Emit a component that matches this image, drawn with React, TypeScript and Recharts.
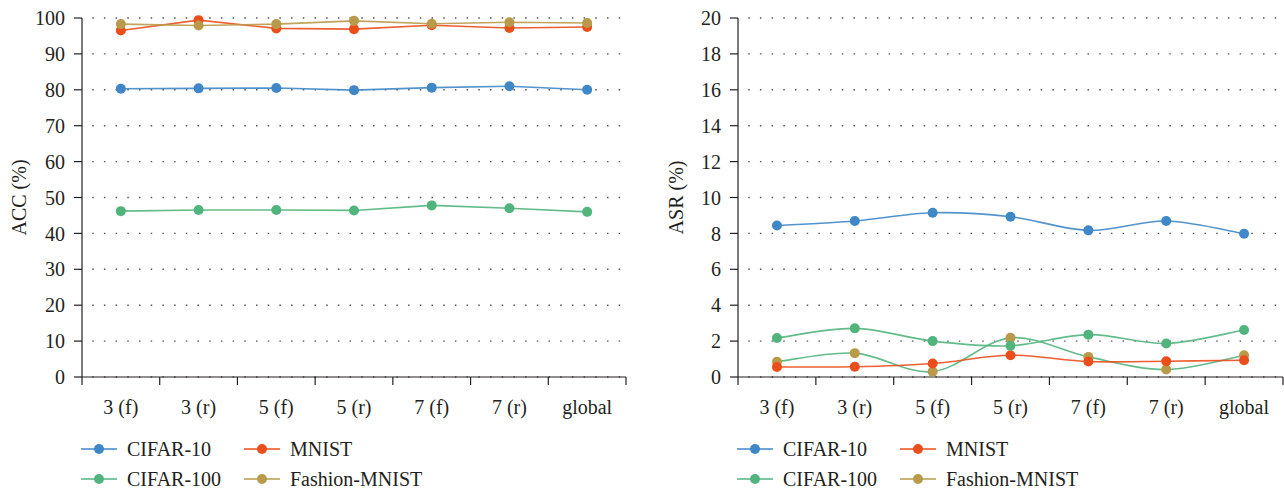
import React from "react";
import { LineChart, Line, XAxis, YAxis, CartesianGrid } from "recharts";

const CATEGORIES = ["3 (f)", "3 (r)", "5 (f)", "5 (r)", "7 (f)", "7 (r)", "global"];

const ACC_CIFAR10 = [80.3, 80.4, 80.5, 79.9, 80.6, 81.0, 80.0];
const ACC_MNIST = [96.5, 99.4, 97.1, 96.9, 98.0, 97.2, 97.5];
const ACC_CIFAR100 = [46.2, 46.5, 46.5, 46.4, 47.8, 47.0, 46.0];
const ACC_FASHION = [98.3, 97.9, 98.3, 99.2, 98.4, 98.8, 98.6];

const ASR_CIFAR10 = [8.44, 8.69, 9.15, 8.93, 8.17, 8.69, 7.98];
const ASR_MNIST = [0.56, 0.57, 0.75, 1.21, 0.86, 0.88, 0.93];
const ASR_CIFAR100 = [2.17, 2.71, 2.0, 1.74, 2.36, 1.87, 2.62];
const ASR_FASHION = [0.85, 1.33, 0.3, 2.18, 1.12, 0.42, 1.21];

const ACC_TICKS = [0, 10, 20, 30, 40, 50, 60, 70, 80, 90, 100];
const ASR_TICKS = [0, 2, 4, 6, 8, 10, 12, 14, 16, 18, 20];

const FONT = '"Liberation Serif", "DejaVu Serif", serif';
const FONT_SIZE = 20;
const INK = "#231f20";
const BLUE = "#3f87c7";
const RED = "#e94e1b";
const GREEN = "#52b47d";
const GOLD = "#b99a4a";

const SERIES = [
  { key: "cifar10", name: "CIFAR-10", color: BLUE },
  { key: "mnist", name: "MNIST", color: RED },
  { key: "cifar100", name: "CIFAR-100", color: GREEN },
  { key: "fashion", name: "Fashion-MNIST", color: GOLD },
];

const PANEL_W = 642;
const PANEL_H = 490;
const TOP = 18;
const BOTTOM = 73;
const XAXIS_H = 40;

// smooth line like the spreadsheet "smoothed line" option (Catmull-Rom as beziers)
const smoothCurve = (context: any) => {
  let pts: [number, number][] = [];
  return {
    areaStart() {},
    areaEnd() {},
    lineStart() {
      pts = [];
    },
    point(x: number, y: number) {
      pts.push([+x, +y]);
    },
    lineEnd() {
      if (!pts.length) return;
      context.moveTo(pts[0][0], pts[0][1]);
      const t = 1 / 6;
      for (let i = 0; i < pts.length - 1; i++) {
        const p0 = pts[i - 1] || pts[i];
        const p1 = pts[i];
        const p2 = pts[i + 1];
        const p3 = pts[i + 2] || p2;
        context.bezierCurveTo(
          p1[0] + (p2[0] - p0[0]) * t,
          p1[1] + (p2[1] - p0[1]) * t,
          p2[0] - (p3[0] - p1[0]) * t,
          p2[1] - (p3[1] - p1[1]) * t,
          p2[0],
          p2[1]
        );
      }
    },
  };
};

function buildRows(values: Record<string, number[]>) {
  return CATEGORIES.map((cat, i) => {
    const row: Record<string, string | number> = { cat };
    Object.keys(values).forEach((k) => {
      row[k] = values[k][i];
    });
    return row;
  });
}

const accData = buildRows({
  cifar10: ACC_CIFAR10,
  mnist: ACC_MNIST,
  cifar100: ACC_CIFAR100,
  fashion: ACC_FASHION,
});

const asrData = buildRows({
  cifar10: ASR_CIFAR10,
  mnist: ASR_MNIST,
  cifar100: ASR_CIFAR100,
  fashion: ASR_FASHION,
});

function CategoryTick(props: any) {
  const { x, y, payload, index, bw, count } = props;
  return (
    <g>
      <line x1={x - bw / 2} y1={y} x2={x - bw / 2} y2={y + 8} stroke={INK} strokeWidth={1.2} />
      {index === count - 1 && (
        <line x1={x + bw / 2} y1={y} x2={x + bw / 2} y2={y + 8} stroke={INK} strokeWidth={1.2} />
      )}
      <text
        x={x}
        y={y + 30}
        textAnchor="middle"
        dominantBaseline="central"
        fontFamily={FONT}
        fontSize={FONT_SIZE}
        fill={INK}
      >
        {payload.value}
      </text>
    </g>
  );
}

function LegendBlock({ axisX }: { axisX: number }) {
  const cols = [axisX - 1, axisX + 162];
  const rows = [449, 479];
  return (
    <>
      {SERIES.map((s, i) => (
        <div
          key={s.key}
          style={{
            position: "absolute",
            left: cols[i % 2],
            top: rows[Math.floor(i / 2)] - 12,
            height: 24,
            display: "flex",
            alignItems: "center",
            fontFamily: FONT,
            fontSize: FONT_SIZE,
            color: INK,
            whiteSpace: "nowrap",
          }}
        >
          <svg width={36} height={12} style={{ marginRight: 10 }}>
            <line x1={0} y1={6} x2={36} y2={6} stroke={s.color} strokeOpacity={0.75} strokeWidth={2} />
            <circle cx={18} cy={6} r={5} fill={s.color} />
          </svg>
          {s.name}
        </div>
      ))}
    </>
  );
}

interface PanelProps {
  left: number;
  data: Record<string, string | number>[];
  yLabel: string;
  yTicks: number[];
  yAxisW: number;
  rightMargin: number;
  labelX: number;
  smooth: boolean;
  order: string[];
  lineColor?: Record<string, string>;
}

function Panel({ left, data, yLabel, yTicks, yAxisW, rightMargin, labelX, smooth, order, lineColor }: PanelProps) {
  const plotW = PANEL_W - yAxisW - rightMargin;
  const bw = plotW / CATEGORIES.length;
  const yMax = yTicks[yTicks.length - 1];

  return (
    <div style={{ position: "absolute", left, top: 0, width: PANEL_W, height: PANEL_H }}>
      <LineChart
        width={PANEL_W}
        height={PANEL_H}
        data={data}
        margin={{ top: TOP, right: rightMargin, bottom: BOTTOM, left: 0 }}
      >
        <CartesianGrid
          vertical={false}
          stroke="#555"
          strokeWidth={1.4}
          strokeDasharray="0 10.2 1.5 0"
        />
        <XAxis
          dataKey="cat"
          height={XAXIS_H}
          interval={0}
          padding={{ left: bw / 2, right: bw / 2 }}
          axisLine={{ stroke: INK, strokeWidth: 1.2 }}
          tickLine={false}
          tickSize={0}
          tickMargin={0}
          tick={(p: any) => <CategoryTick {...p} bw={bw} count={CATEGORIES.length} />}
        />
        <YAxis
          width={yAxisW}
          domain={[0, yMax]}
          ticks={yTicks}
          interval={0}
          tickSize={8}
          tickMargin={9}
          axisLine={{ stroke: INK, strokeWidth: 1.2 }}
          tickLine={{ stroke: INK, strokeWidth: 1.2 }}
          tick={{ fontFamily: FONT, fontSize: FONT_SIZE, fill: INK }}
          label={{
            value: yLabel,
            content: (p: any) => {
              const vb = p.viewBox || { y: TOP, height: PANEL_H - TOP - BOTTOM - XAXIS_H };
              const cy = vb.y + vb.height / 2;
              return (
                <text
                  x={labelX}
                  y={cy}
                  transform={`rotate(-90 ${labelX} ${cy})`}
                  textAnchor="middle"
                  dominantBaseline="central"
                  fontFamily={FONT}
                  fontSize={FONT_SIZE}
                  fill={INK}
                >
                  {yLabel}
                </text>
              );
            },
          }}
        />
        {order.map((key) => {
          const s = SERIES.find((d) => d.key === key)!;
          const stroke = (lineColor && lineColor[key]) || s.color;
          return (
            <Line
              key={key}
              dataKey={key}
              name={s.name}
              type={smooth ? (smoothCurve as any) : "linear"}
              stroke={stroke}
              strokeOpacity={0.9}
              strokeWidth={1.6}
              dot={{ r: 5, fill: s.color, stroke: "none" }}
              activeDot={false}
              isAnimationActive={false}
            />
          );
        })}
      </LineChart>
      <LegendBlock axisX={yAxisW} />
    </div>
  );
}

export default function App() {
  return (
    <div
      style={{
        position: "absolute",
        left: 0,
        top: 0,
        width: 1284,
        height: 490,
        background: "#fff",
        overflow: "hidden",
      }}
    >
      <Panel
        left={0}
        data={accData}
        yLabel="ACC (%)"
        yTicks={ACC_TICKS}
        yAxisW={82}
        rightMargin={16}
        labelX={19}
        smooth={false}
        order={["cifar10", "mnist", "cifar100", "fashion"]}
      />
      <Panel
        left={642}
        data={asrData}
        yLabel="ASR (%)"
        yTicks={ASR_TICKS}
        yAxisW={96}
        rightMargin={1}
        labelX={34}
        smooth={true}
        order={["fashion", "cifar10", "mnist", "cifar100"]}
        lineColor={{ fashion: GREEN }}
      />
    </div>
  );
}
